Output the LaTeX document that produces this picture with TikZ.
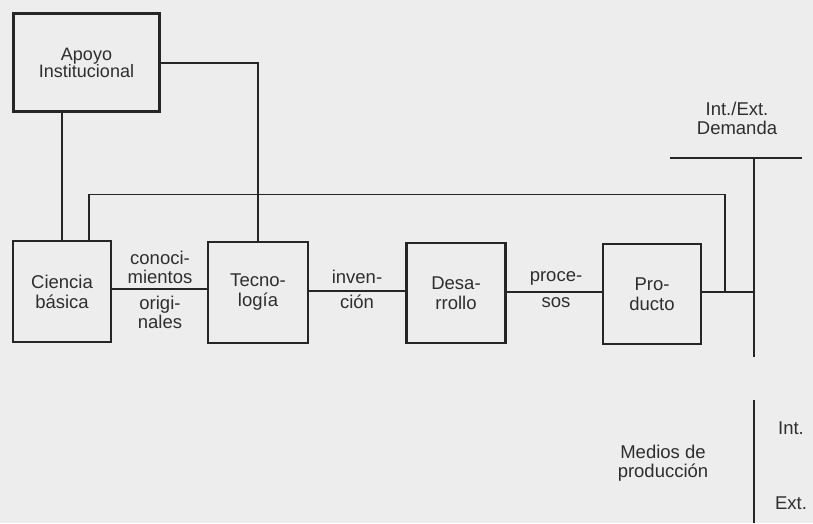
\documentclass[tikz,border=0pt]{standalone}
\usepackage{fontspec}
\setmainfont{Liberation Sans}
\begin{document}
\begin{tikzpicture}[x=1pt,y=-1pt,
  box/.style={draw=black!85,line width=2.8pt,minimum width=98pt,minimum height=100pt,
    align=center,font=\fontsize{18.5}{20}\selectfont,text=black!82,inner sep=0pt},
  lab/.style={align=center,font=\fontsize{18.5}{19}\selectfont,text=black!82,inner sep=0pt},
  conn/.style={draw=black!85,line width=1.6pt},
  heavy/.style={draw=black!85,line width=2.6pt}]
\fill[black!7] (0,0) rectangle (813,523);
\useasboundingbox (0,0) rectangle (813,523);
% boxes
\node[box,minimum width=146pt,minimum height=98pt,font=\fontsize{18}{17}\selectfont] (apoyo) at (86.5,62.5) {Apoyo\\Institucional};
\node[box,minimum height=101pt] (cien) at (62,291.5) {Ciencia\\básica};
\node[box,minimum width=100pt,minimum height=101pt] (tec) at (258,292.5) {Tecno-\\logía};
\node[box,minimum width=99pt] (des) at (456,293) {Desa-\\rrollo};
\node[box] (pro) at (652,294) {Pro-\\ducto};
% right side
\coordinate (vtop) at (754,158);
\coordinate (vjoin) at (754,292);
\coordinate (vbot) at (754,357);
\coordinate (dl) at (670,158);
\coordinate (dr) at (802,158);
\coordinate (fb) at (725,292);
\coordinate (ltop) at (754,400);
\coordinate (lbot) at (754,523);
% connectors
\draw[conn] (apoyo.east |- 0,63) -| (tec.north);
\draw[conn] (apoyo.south -| cien.north) -- (cien.north);
\draw[conn] ([xshift=27pt]cien.north) -- ++(0,-45) -| (fb);
\draw[conn] (cien.east |- 0,289) -- (tec.west |- 0,289);
\draw[conn] (tec.east |- 0,291) -- (des.west |- 0,291);
\draw[conn] (des.east |- 0,292) -- (pro.west |- 0,292);
\draw[conn] (pro.east |- vjoin) -- (vjoin);
\draw[heavy] (dl) -- (dr);
\draw[heavy] (vtop) -- (vbot);
\draw[heavy] (ltop) -- (lbot);
% labels
\node[lab] (l1) at (160,267) {conoci-\\mientos};
\node[lab] (l2) at (160,312) {origi-\\nales};
\node[lab] (l3) at (357,277) {inven-};
\node[lab] (l4) at (357,302) {ción};
\node[lab] (l5) at (556,278) {proce-};
\node[lab] (l6) at (556,303) {sos};
\node[lab] (dem) at (737,118) {Int./Ext.\\Demanda};
\node[lab] (medios) at (663,463) {Medios de\\producción};
\node[lab] (int) at (791,428) {Int.};
\node[lab] (ext) at (791,503) {Ext.};
\end{tikzpicture}
\end{document}
